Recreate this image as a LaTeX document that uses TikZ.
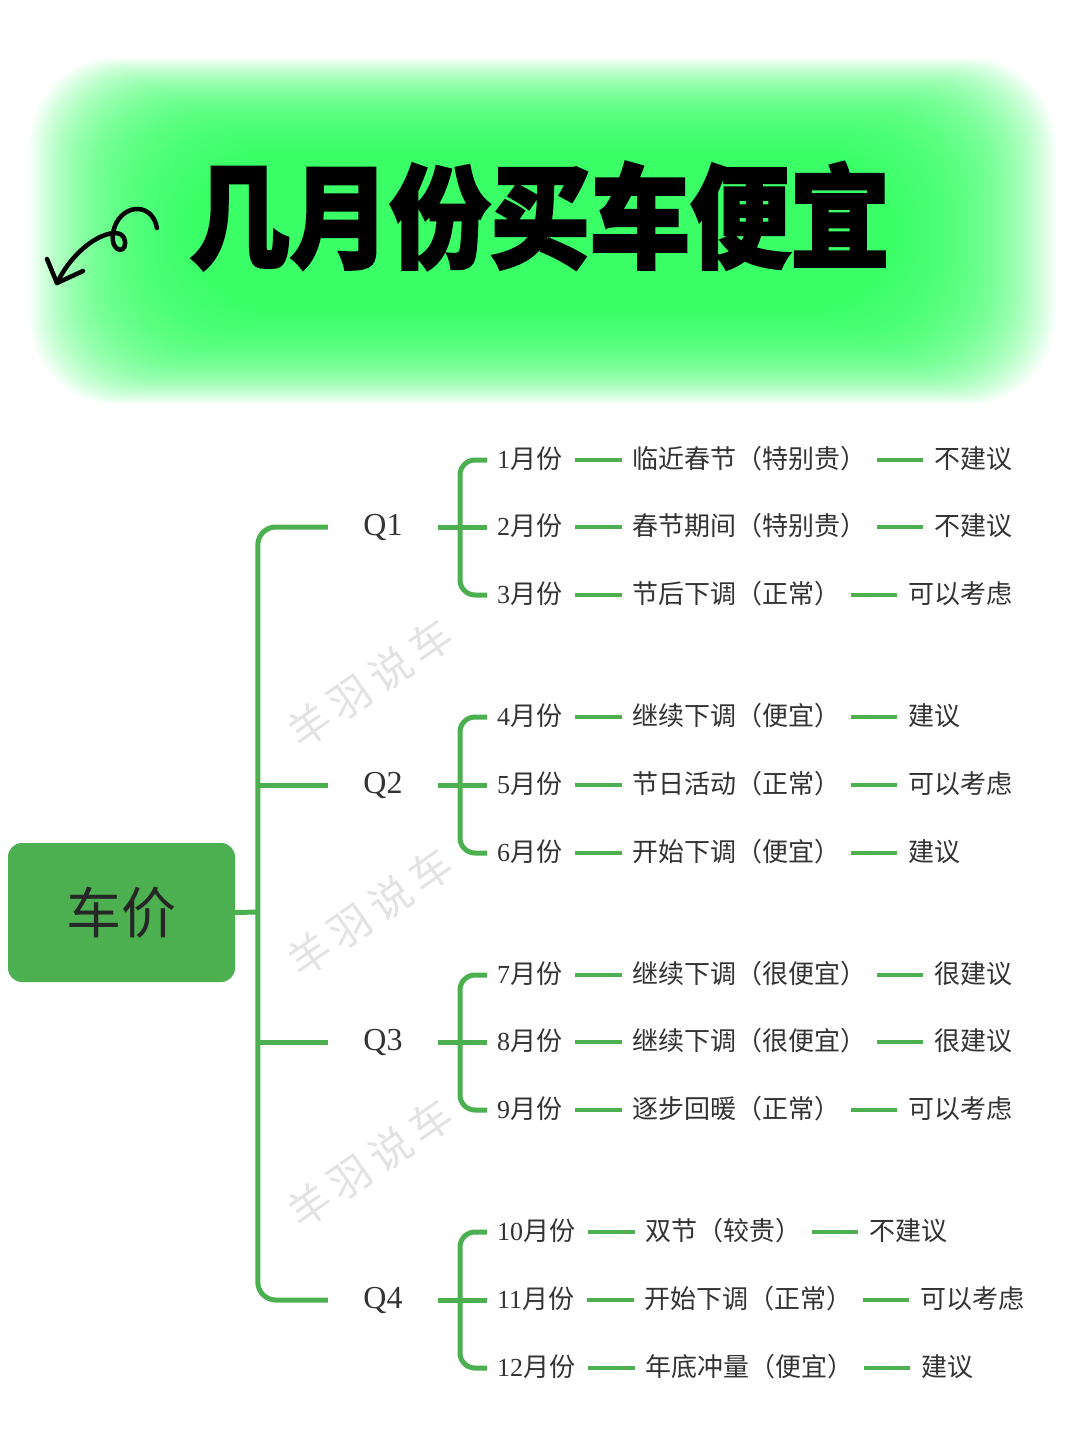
\documentclass[tikz,border=0pt]{standalone}
\usepackage{fontspec}
\setmainfont{Liberation Serif}
\newfontfamily\cjk{Noto Sans CJK SC}
\newfontfamily\titlefont[BoldFeatures={FakeBold=2.5}]{Noto Sans CJK SC}
\usetikzlibrary{positioning}
\definecolor{treegreen}{HTML}{4CAF50}
\definecolor{glowgreen}{HTML}{33FF66}
\definecolor{labelgray}{HTML}{333333}
\newcommand\mth[1]{#1{\cjk 月份}}
\tikzset{
  branch/.style={treegreen, line width=5pt, rounded corners=18pt},
  dashlink/.style={treegreen, line width=3.8pt, shorten <=13pt, shorten >=10pt},
  month/.style={anchor=west, inner sep=0pt, text height=20pt, text depth=4pt,
    font=\fontsize{26}{30}\selectfont, text=labelgray},
  desc/.style={inner sep=0pt, text height=20pt, text depth=4pt,
    font=\cjk\fontsize{26}{30}\selectfont, text=labelgray},
  quarter/.style={minimum width=110pt, inner sep=0pt, font=\fontsize{32}{36}\selectfont, text=labelgray},
  rootbox/.style={fill=treegreen, rounded corners=14pt, minimum width=227pt, minimum height=139pt,
    font=\cjk\fontsize{55}{60}\selectfont, text=black!85},
  watermark/.style={rotate=35, text=gray!22, font=\cjk\fontsize{42}{46}\selectfont}
}
\begin{document}
\begin{tikzpicture}[x=1pt,y=-1pt]
\useasboundingbox (0,0) rectangle (1080,1440);
\fill[white] (0,0) rectangle (1080,1440);
% title glow
\foreach \i in {0,...,59}
  \fill[glowgreen, opacity=0.04, rounded corners=85pt] (30+2.7*\i,58+1.6*\i) rectangle (1055-2.7*\i,404-1.6*\i);
\node (title) at (540,216) {\titlefont\bfseries\fontsize{100}{110}\selectfont\scalebox{1}[1.12]{几月份买车便宜}};
% doodle arrow
\draw[line width=4.5pt, line cap=round, line join=round] (157,228) .. controls (152,200) and (118,204) .. (113,233)
  .. controls (110,255) and (130,254) .. (124,238) .. controls (118,224) and (78,240) .. (57,283);
\draw[line width=4.5pt, line cap=round, line join=round] (47,259) -- (57,283) -- (83,271);
% watermarks
\node[watermark] (wm1) at (370,683) {羊\,羽\,说\,车};
\node[watermark] (wm2) at (370,912) {羊\,羽\,说\,车};
\node[watermark] (wm3) at (370,1163) {羊\,羽\,说\,车};
% tree
\node[rootbox] (root) at (121.5,912.5) {车价};
\coordinate (trunk) at (258,912);
\node[quarter] (q1) at (383,527) {Q1};
\node[quarter] (q2) at (383,785) {Q2};
\node[quarter] (q3) at (383,1042) {Q3};
\node[quarter] (q4) at (383,1300) {Q4};
\draw[branch] (q1.west) -- ++(-70,0) |- (q4.west);
\draw[branch] (root.east) -- (trunk);
\draw[branch] (q2.west) -- (q2.west -| trunk);
\draw[branch] (q3.west) -- (q3.west -| trunk);
\foreach \n/\yy/\dd/\vv in {1/460/临近春节（特别贵）/不建议, 2/527/春节期间（特别贵）/不建议,
    3/595/节后下调（正常）/可以考虑, 4/717/继续下调（便宜）/建议, 5/785/节日活动（正常）/可以考虑,
    6/853/开始下调（便宜）/建议, 7/975/继续下调（很便宜）/很建议, 8/1042/继续下调（很便宜）/很建议,
    9/1110/逐步回暖（正常）/可以考虑, 10/1232/双节（较贵）/不建议, 11/1300/开始下调（正常）/可以考虑,
    12/1368/年底冲量（便宜）/建议}
{
  \node[month] (m\n) at (497,\yy) {\mth{\n}};
  \node[desc, right=70pt of m\n] (d\n) {\dd};
  \node[desc, right=67pt of d\n] (v\n) {\vv};
  \draw[dashlink] (m\n.east) -- (d\n.west);
  \draw[dashlink, shorten <=10pt, shorten >=11pt] (d\n.east) -- (v\n.west);
}
\foreach \q/\a/\b/\c in {q1/m1/m2/m3, q2/m4/m5/m6, q3/m7/m8/m9, q4/m10/m11/m12}
{
  \draw[branch, rounded corners=15pt] ([xshift=-10pt]\a.west) -- ++(-27,0) |- ([xshift=-10pt]\c.west);
  \draw[branch] (\q.east) -- ([xshift=-10pt]\b.west);
}
\end{tikzpicture}
\end{document}
